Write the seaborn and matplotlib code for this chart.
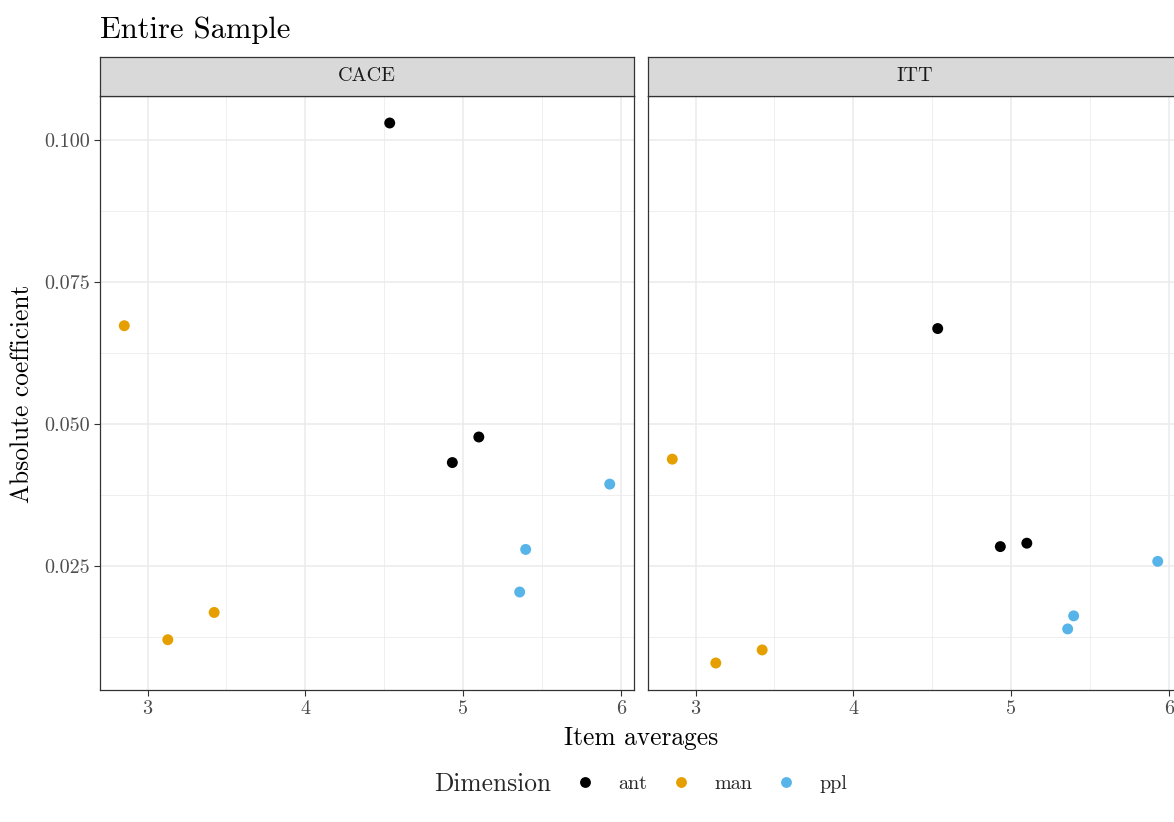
import matplotlib
matplotlib.use("Agg")
import matplotlib.pyplot as plt
from matplotlib.lines import Line2D
import seaborn as sns
import pandas as pd
from matplotlib.offsetbox import HPacker

# ---- data ----
dimensions = ["ant", "ant", "ant", "man", "man", "man", "ppl", "ppl", "ppl"]
item_avg = [4.535, 4.932, 5.100, 2.852, 3.128, 3.422, 5.930, 5.397, 5.359]
cace_coef = [0.1030, 0.0432, 0.0477, 0.0673, 0.0120, 0.0168, 0.0394, 0.0279, 0.0204]
itt_coef = [0.0668, 0.0284, 0.0290, 0.0438, 0.0079, 0.0102, 0.0258, 0.0162, 0.0139]
panels = ["CACE", "ITT"]
dim_levels = ["ant", "man", "ppl"]
dim_colors = ["#000000", "#E69F00", "#56B4E9"]
x_ticks = [3, 4, 5, 6]
y_ticks = [0.025, 0.050, 0.075, 0.100]
y_tick_labels = ["0.025", "0.050", "0.075", "0.100"]

df = pd.concat([
    pd.DataFrame({"Dimension": dimensions, "x": item_avg, "y": cace_coef, "panel": "CACE"}),
    pd.DataFrame({"Dimension": dimensions, "x": item_avg, "y": itt_coef, "panel": "ITT"}),
])

sns.set_theme(style="white")
plt.rcParams["font.family"] = ["cmr10", "DejaVu Serif"]
plt.rcParams["mathtext.fontset"] = "cm"
plt.rcParams["axes.formatter.use_mathtext"] = True

W, H = 1174, 822
fig = plt.figure(figsize=(W / 100, H / 100), dpi=100)
palette = dict(zip(dim_levels, dim_colors))

# expanded limits like ggplot (5%)
xr = max(item_avg) - min(item_avg)
xlim = (min(item_avg) - 0.05 * xr, max(item_avg) + 0.05 * xr)
ally = cace_coef + itt_coef
yr = max(ally) - min(ally)
ylim = (min(ally) - 0.05 * yr, max(ally) + 0.05 * yr)

def fx(px):
    return px / W

def fy(py):
    return 1 - py / H

panel_lefts = [100, 648]
pw = 534
top, bottom = 96, 690
strip_top = 57
TICK = 14.5
AXT = 18.3

grid_col = "#EBEBEB"
for i, (name, left) in enumerate(zip(panels, panel_lefts)):
    ax = fig.add_axes([fx(left), fy(bottom), pw / W, (bottom - top) / H])
    sub = df[df.panel == name]
    sns.scatterplot(data=sub, x="x", y="y", hue="Dimension", hue_order=dim_levels,
                    palette=palette, s=62, edgecolor="none", linewidth=0, legend=False, ax=ax,
                    zorder=3)
    ax.set_xlim(xlim)
    ax.set_ylim(ylim)
    ax.set_xticks(x_ticks)
    ax.set_xticks([3.5, 4.5, 5.5], minor=True)
    ax.set_yticks(y_ticks)
    ax.set_yticks([0.0125, 0.0375, 0.0625, 0.0875], minor=True)
    ax.grid(True, which="major", color=grid_col, linewidth=1.1, zorder=0)
    ax.grid(True, which="minor", color=grid_col, linewidth=0.55, zorder=0)
    ax.set_axisbelow(True)
    ax.set_xticklabels([str(t) for t in x_ticks])
    if i == 0:
        ax.set_yticklabels(y_tick_labels)
        ax.tick_params(axis="y", which="major", length=4, width=0.8, color="#333333",
                       labelsize=TICK, labelcolor="#4D4D4D", pad=3, left=True)
    else:
        ax.set_yticklabels([])
        ax.tick_params(axis="y", which="major", length=0)
    ax.tick_params(axis="x", which="major", length=4, width=0.8, color="#333333",
                   labelsize=TICK, labelcolor="#4D4D4D", pad=3, bottom=True)
    ax.tick_params(which="minor", length=0)
    for sp in ax.spines.values():
        sp.set_color("#333333")
        sp.set_linewidth(0.9)
    ax.set_xlabel("")
    ax.set_ylabel("")
    # strip
    sax = fig.add_axes([fx(left), fy(top), pw / W, (top - strip_top) / H])
    sax.set_facecolor("#D9D9D9")
    sax.set_xticks([])
    sax.set_yticks([])
    for sp in sax.spines.values():
        sp.set_color("#333333")
        sp.set_linewidth(0.9)
    sax.text(0.5, 0.5, name, ha="center", va="center", fontsize=TICK, color="#1A1A1A",
             transform=sax.transAxes)

fig.text(fx(100), fy(30), "Entire Sample", ha="left", va="center", fontsize=22, color="black")
fig.text(fx(641), fy(738), "Item averages", ha="center", va="center", fontsize=AXT, color="black")
fig.text(fx(22), fy(394), "Absolute coefficient", ha="center", va="center", rotation=90,
         fontsize=AXT, color="black")

handles = [Line2D([0], [0], marker="o", linestyle="none", markersize=7.8,
                  markerfacecolor=c, markeredgecolor="none") for c in dim_colors]
leg = fig.legend(handles, dim_levels, title="Dimension", loc="center",
                 bbox_to_anchor=(fx(641), fy(784)), ncol=3, frameon=False,
                 fontsize=TICK, title_fontsize=AXT, handletextpad=1.15, columnspacing=1.2,
                 handlelength=1.0)
title_box = leg._legend_title_box
handle_box = leg._legend_handle_box
new = HPacker(pad=0, sep=16.5, align="center", children=[title_box, handle_box])
leg._legend_box._children = [new]

fig.savefig("out.png", dpi=100, facecolor="white")
